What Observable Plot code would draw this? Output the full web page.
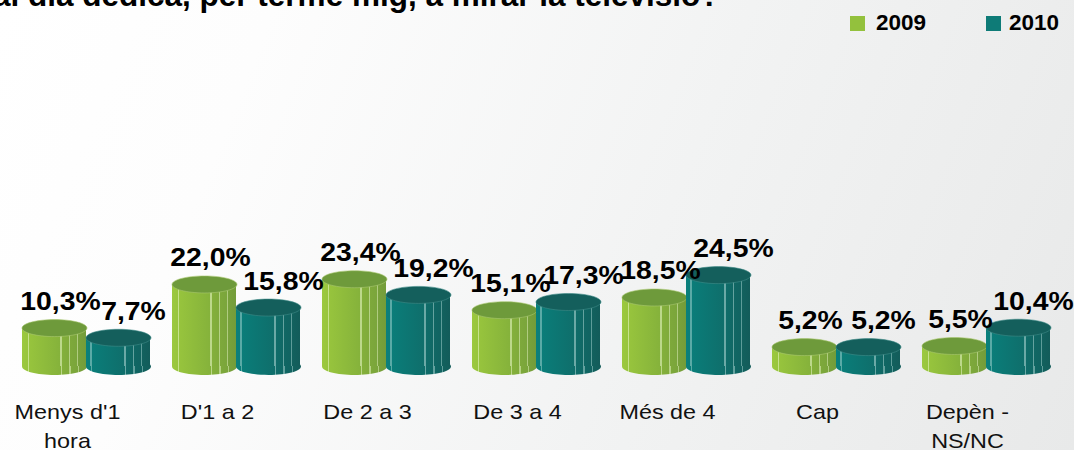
<!DOCTYPE html>
<html>
<head>
<meta charset="utf-8">
<script src="https://cdn.jsdelivr.net/npm/d3@7"></script>
<script src="https://cdn.jsdelivr.net/npm/@observablehq/plot@0.6"></script>
<style>
html,body{margin:0;padding:0;}
body{width:1074px;height:450px;overflow:hidden;
  background:linear-gradient(112deg,#ffffff 0%,#fdfdfd 22%,#f2f3f3 60%,#e8e9e9 100%);
  font-family:"Liberation Sans",Arial,sans-serif;color:#000;}
#header{position:relative;height:40px;width:1074px;}
#title{position:absolute;left:-7px;top:-21px;font-size:31.5px;line-height:32px;font-weight:bold;white-space:nowrap;}
.sw{position:absolute;top:16px;width:15px;height:15px;}
.lt{position:absolute;top:12px;font-size:22.5px;line-height:22.5px;font-weight:bold;white-space:nowrap;}
#chart svg{display:block;overflow:visible;}
</style>
</head>
<body>
<div id="header">
  <div id="title">al dia dedica, per terme mig, a mirar la televisió?</div>
  <div class="sw" style="left:850px;background:#93c13d"></div>
  <div class="lt" style="left:876px">2009</div>
  <div class="sw" style="left:986px;background:#0e7b77"></div>
  <div class="lt" style="left:1009px">2010</div>
</div>
<div id="chart"></div>
<script>
const categories = ["Menys d'1 hora", "D'1 a 2", "De 2 a 3", "De 3 a 4", "Més de 4", "Cap", "Depèn - NS/NC"];
const tickLabels = ["Menys d'1\nhora", "D'1 a 2", "De 2 a 3", "De 3 a 4", "Més de 4", "Cap", "Depèn -\nNS/NC"];
const values2009 = [10.3, 22.0, 23.4, 15.1, 18.5, 5.2, 5.5];
const values2010 = [7.7, 15.8, 19.2, 17.3, 24.5, 5.2, 10.4];

const data2009 = categories.map((c, i) => ({cat: c, v: values2009[i]}));
const data2010 = categories.map((c, i) => ({cat: c, v: values2010[i]}));
const fmt = d => d.v.toFixed(1).replace(".", ",") + "%";

const ellipse = {
  draw(ctx) {
    const rx = 32.5, ry = 8.5, k = 0.5523;
    ctx.moveTo(rx, 0);
    ctx.bezierCurveTo(rx, ry * k, rx * k, ry, 0, ry);
    ctx.bezierCurveTo(-rx * k, ry, -rx, ry * k, -rx, 0);
    ctx.bezierCurveTo(-rx, -ry * k, -rx * k, -ry, 0, -ry);
    ctx.bezierCurveTo(rx * k, -ry, rx, -ry * k, rx, 0);
    ctx.closePath();
  }
};

function cylinder(data, side, body, top) {
  const dx = side * 32;
  return [
    Plot.dot(data, {x: "cat", y: () => 0, r: 1, symbol: ellipse, fill: body, dx}),
    Plot.barY(data, {x: "cat", y: "v", fill: body, insetLeft: side > 0 ? 64 : 0, insetRight: side < 0 ? 64 : 0}),
    Plot.dot(data, {x: "cat", y: "v", r: 1, symbol: ellipse, fill: top, stroke: side < 0 ? "#a9c870" : "#3f8c88", strokeWidth: 0.6, dx})
  ];
}

const svg = Plot.plot({
  width: 1074,
  height: 410,
  marginLeft: 11,
  marginRight: 13,
  marginTop: 20,
  marginBottom: 84,
  x: {domain: categories, paddingInner: 22 / 150, paddingOuter: 11 / 150, axis: null},
  y: {domain: [0, 25], range: [326, 326 - 25 * 3.73], axis: null},
  style: {background: "transparent", fontFamily: "'Liberation Sans', Arial, sans-serif", overflow: "visible"},
  marks: [
    ...cylinder(data2009, -1, "url(#g2009)", "#6e9a3b"),
    ...cylinder(data2010, 1, "url(#g2010)", "#145f5c"),
    Plot.text(data2009, {x: "cat", y: "v", text: fmt, dx: -26, dy: -18, lineAnchor: "bottom", fontSize: 26.5, fontWeight: "bold", fill: "#000"}),
    Plot.text(data2010, {x: "cat", y: "v", text: fmt, dx: 47, dy: -18, lineAnchor: "bottom", fontSize: 26.5, fontWeight: "bold", fill: "#000"}),
    Plot.text(categories, {x: d => d, y: () => 0, text: (d, i) => tickLabels[i], dx: -19, dy: 32, lineAnchor: "top", fontSize: 20, lineHeight: 1.46, fill: "#111"})
  ]
});

const defs = `
<linearGradient id="g2009" x1="0" x2="1" y1="0" y2="0">
  <stop offset="0" stop-color="#9cc93e"/>
  <stop offset="0.09" stop-color="#98c53d"/>
  <stop offset="0.09" stop-color="#c6e28c"/>
  <stop offset="0.11" stop-color="#c6e28c"/>
  <stop offset="0.11" stop-color="#97c43d"/>
  <stop offset="0.6" stop-color="#85b23b"/>
  <stop offset="0.6" stop-color="#bcd88a"/>
  <stop offset="0.62" stop-color="#bcd88a"/>
  <stop offset="0.62" stop-color="#84b03b"/>
  <stop offset="0.73" stop-color="#80ab3b"/>
  <stop offset="0.73" stop-color="#b6d285"/>
  <stop offset="0.75" stop-color="#b6d285"/>
  <stop offset="0.75" stop-color="#7ea93b"/>
  <stop offset="0.86" stop-color="#7aa53b"/>
  <stop offset="0.86" stop-color="#b0cc80"/>
  <stop offset="0.88" stop-color="#b0cc80"/>
  <stop offset="0.88" stop-color="#78a23b"/>
  <stop offset="1" stop-color="#739c3a"/>
</linearGradient>
<linearGradient id="g2010" x1="0" x2="1" y1="0" y2="0">
  <stop offset="0" stop-color="#0a807c"/>
  <stop offset="0.07" stop-color="#0a7e7a"/>
  <stop offset="0.07" stop-color="#5aaaa6"/>
  <stop offset="0.09" stop-color="#5aaaa6"/>
  <stop offset="0.09" stop-color="#0a7d79"/>
  <stop offset="0.6" stop-color="#0f6e6b"/>
  <stop offset="0.6" stop-color="#6aa9a6"/>
  <stop offset="0.62" stop-color="#6aa9a6"/>
  <stop offset="0.62" stop-color="#0f6d6a"/>
  <stop offset="0.73" stop-color="#106865"/>
  <stop offset="0.73" stop-color="#64a29f"/>
  <stop offset="0.75" stop-color="#64a29f"/>
  <stop offset="0.75" stop-color="#106764"/>
  <stop offset="0.86" stop-color="#116361"/>
  <stop offset="0.86" stop-color="#5e9c99"/>
  <stop offset="0.88" stop-color="#5e9c99"/>
  <stop offset="0.88" stop-color="#12615e"/>
  <stop offset="1" stop-color="#135c5a"/>
</linearGradient>`;
d3.select(svg).insert("defs", ":first-child").html(defs);

function stretch(sel, k) {
  sel.each(function() {
    const t = this.getAttribute("transform") || "";
    this.setAttribute("transform", t + ` scale(${k},1)`);
  });
}
stretch(d3.select(svg).selectAll('g[font-size="20"] > text'), 1.17);
stretch(d3.select(svg).selectAll('g[font-size="26.5"] > text'), 1.07);

document.getElementById("chart").appendChild(svg);
</script>
</body>
</html>
